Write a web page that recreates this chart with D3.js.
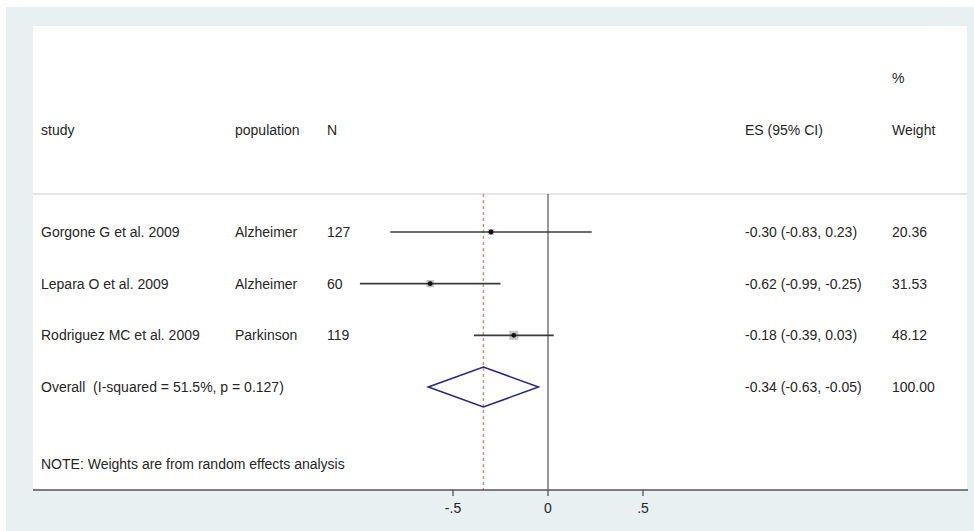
<!DOCTYPE html>
<html>
<head>
<meta charset="utf-8">
<script src="https://cdn.jsdelivr.net/npm/d3@7"></script>
<style>
  body { margin: 0; background: #fff; }
  text { font-family: "Liberation Sans", Arial, sans-serif; font-size: 14px; fill: #262626; white-space: pre; }
</style>
</head>
<body>
<div id="chart"></div>
<script>
var studies = ["Gorgone G et al. 2009", "Lepara O et al. 2009", "Rodriguez MC et al. 2009"]
var populations = ["Alzheimer", "Alzheimer", "Parkinson"]
var sampleSizes = [127, 60, 119]
var effects = [-0.30, -0.62, -0.18]
var lower = [-0.83, -0.99, -0.39]
var upper = [0.23, -0.25, 0.03]
var weights = [20.36, 31.53, 48.12]
var overall = {es: -0.34, lo: -0.63, hi: -0.05, weight: 100.00}
var overallLabel = "Overall  (I-squared = 51.5%, p = 0.127)"
var ticks = [-0.5, 0, 0.5]
var tickLabels = ["-.5", "0", ".5"]
var note = "NOTE: Weights are from random effects analysis"

var fullWidth = 974;
var fullHeight = 531;

var svg = d3.select("#chart")
  .append("svg")
    .attr("width", fullWidth)
    .attr("height", fullHeight);

// frame: light backdrop with white plot panel
svg.append("rect")
  .attr("x", 6).attr("y", 7)
  .attr("width", fullWidth - 6).attr("height", fullHeight - 7)
  .attr("fill", "#e9f0f2");
svg.append("rect")
  .attr("x", 33).attr("y", 26)
  .attr("width", 934).attr("height", 464)
  .attr("fill", "#fff");

var x = d3.scaleLinear().domain([-0.5, 0.5]).range([453, 643]);
var rows = d3.range(studies.length + 1);
var y = d3.scalePoint().domain(rows).range([232, 387]);

var plotTop = 194, plotBottom = 490;

// header
var cols = {study: 41, pop: 235, n: 327, es: 745, w: 892};
svg.append("text").attr("x", cols.w).attr("y", 83).text("%");
[["study", cols.study], ["population", cols.pop], ["N", cols.n], ["ES (95% CI)", cols.es], ["Weight", cols.w]]
  .forEach(function(h) {
    svg.append("text").attr("x", h[1]).attr("y", 135).text(h[0]);
  });

svg.append("line")
  .attr("x1", 33).attr("x2", 967)
  .attr("y1", plotTop).attr("y2", plotTop)
  .attr("stroke", "#ddd").attr("stroke-width", 1.5);

// reference lines
svg.append("line")
  .attr("x1", x(0)).attr("x2", x(0))
  .attr("y1", plotTop).attr("y2", plotBottom)
  .attr("stroke", "#777").attr("stroke-width", 1.5);
svg.append("line")
  .attr("x1", x(overall.es)).attr("x2", x(overall.es))
  .attr("y1", plotTop).attr("y2", plotBottom)
  .attr("stroke", "#c98a8a").attr("stroke-width", 1.4)
  .attr("stroke-dasharray", "3,3");

function fmt(v) { return v.toFixed(2); }

// study rows
var row = svg.selectAll(".row")
  .data(studies)
  .enter().append("g")
    .attr("class", "row")
    .attr("transform", function(d, i) { return "translate(0," + y(i) + ")"; });

row.append("text").attr("x", cols.study).attr("y", 5).text(function(d) { return d; });
row.append("text").attr("x", cols.pop).attr("y", 5).text(function(d, i) { return populations[i]; });
row.append("text").attr("x", cols.n).attr("y", 5).text(function(d, i) { return sampleSizes[i]; });
row.append("text").attr("x", cols.es).attr("y", 5)
  .text(function(d, i) { return fmt(effects[i]) + " (" + fmt(lower[i]) + ", " + fmt(upper[i]) + ")"; });
row.append("text").attr("x", cols.w).attr("y", 5).text(function(d, i) { return fmt(weights[i]); });

row.append("rect")
  .attr("x", function(d, i) { return x(effects[i]) - 0.65 * Math.sqrt(weights[i]); })
  .attr("y", function(d, i) { return -0.65 * Math.sqrt(weights[i]); })
  .attr("width", function(d, i) { return 1.3 * Math.sqrt(weights[i]); })
  .attr("height", function(d, i) { return 1.3 * Math.sqrt(weights[i]); })
  .attr("fill", "#c4c4c4");

row.append("line")
  .attr("x1", function(d, i) { return x(lower[i]); })
  .attr("x2", function(d, i) { return x(upper[i]); })
  .attr("stroke", "#3a3a3a").attr("stroke-width", 1.6);

row.append("circle")
  .attr("cx", function(d, i) { return x(effects[i]); })
  .attr("r", 2.4)
  .attr("fill", "#111");

// overall row
var oy = y(studies.length);
svg.append("text").attr("x", cols.study).attr("y", oy + 5).text(overallLabel);
svg.append("text").attr("x", cols.es).attr("y", oy + 5)
  .text(fmt(overall.es) + " (" + fmt(overall.lo) + ", " + fmt(overall.hi) + ")");
svg.append("text").attr("x", cols.w).attr("y", oy + 5).text(fmt(overall.weight));

svg.append("path")
  .attr("d", d3.line()([
    [x(overall.lo), oy], [x(overall.es), oy - 20],
    [x(overall.hi), oy], [x(overall.es), oy + 20]
  ]) + "Z")
  .attr("fill", "none")
  .attr("stroke", "#23238c").attr("stroke-width", 1.5);

svg.append("text").attr("x", cols.study).attr("y", 469).text(note);

// x axis
svg.append("line")
  .attr("x1", 33).attr("x2", 968)
  .attr("y1", plotBottom).attr("y2", plotBottom)
  .attr("stroke", "#555").attr("stroke-width", 1.5);

var tick = svg.selectAll(".tick")
  .data(ticks)
  .enter().append("g")
    .attr("class", "tick")
    .attr("transform", function(d) { return "translate(" + x(d) + "," + plotBottom + ")"; });
tick.append("line").attr("y2", 6).attr("stroke", "#555").attr("stroke-width", 1.3);
tick.append("text")
  .attr("y", 23)
  .attr("text-anchor", "middle")
  .text(function(d, i) { return tickLabels[i]; });
</script>
</body>
</html>
